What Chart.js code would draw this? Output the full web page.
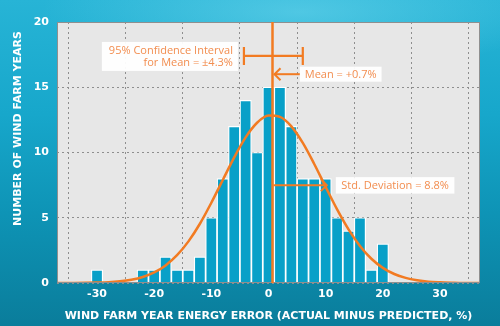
<!DOCTYPE html>
<html><head><meta charset="utf-8">
<script src="https://cdn.jsdelivr.net/npm/chart.js@4/dist/chart.umd.min.js"></script>
<style>
html,body{margin:0;padding:0;width:500px;height:326px;overflow:hidden;}
body{background:
 radial-gradient(ellipse 260px 60px at 300px 12px, rgba(130,225,245,0.45), rgba(130,225,245,0)),
 linear-gradient(180deg,#27b4d6 0%,#17a7cb 35%,#0e94b6 65%,#0a7d9b 100%);}
canvas{display:block}
</style></head><body>
<canvas id="c" width="500" height="326"></canvas>
<script>
// Histogram bins (centre of 2%-wide bin) and counts
const binCenters = [-30,-28,-26,-24,-22,-20,-18,-16,-14,-12,-10,-8,-6,-4,-2,0,2,4,6,8,10,12,14,16,18,20];
const binCounts  = [  1,  0,  0,  0,  1,  1,  2,  1,  1,  2,  5, 8,12,14,10,15,15,12,8,8,8,5,4,5,1,3];
// Fitted normal curve
const curveX = [-37,-34,-32,-30,-28,-26,-24,-22,-20,-18,-16,-14,-12,-10,-8,-6,-4,-2,0,2,4,6,8,10,12,14,16,18,20,22,24,26,28,30,32,34,37];
const curveY = [0,0,0.01,0.03,0.06,0.13,0.25,0.46,0.81,1.35,2.13,3.19,4.54,6.15,7.89,9.63,11.16,12.28,12.83,12.73,12.0,10.73,9.12,7.36,5.64,4.11,2.84,1.86,1.16,0.69,0.39,0.21,0.10,0.05,0.02,0,0];
// Axis ticks
const xTickValues = [-30,-20,-10,0,10,20,30];
const yTickValues = [0,5,10,15,20];
// Annotation values
const meanValue = [0.7];
const ciRange = [-4.3, 6.0];      // drawn interval bar ends
const ciLevel = [17.4];           // y level of interval bar
const meanLabelLevel = [16.0];
const sdArrow = [0.7, 10.2];
const sdLevel = [7.5];
const labels = {
  ci: ['95% Confidence Interval', 'for Mean = \u00b14.3%'],
  mean: 'Mean = +0.7%',
  sd: 'Std. Deviation = 8.8%',
  xTitle: 'WIND FARM YEAR ENERGY ERROR (ACTUAL MINUS PREDICTED, %)',
  yTitle: 'NUMBER OF WIND FARM YEARS'
};

const ORANGE = '#f27b22';
const TXT_ORANGE = '#f28d4f';
const BOLD = 'DejaVu Sans';

const barData = binCenters.map((x,i)=>({x, y: binCounts[i]})).filter(p=>p.y>0);
const curveData = curveX.map((x,i)=>({x, y: curveY[i]}));

function arrowHead(ctx, x, y, dir, size){
  ctx.beginPath();
  ctx.moveTo(x - dir*size, y - size);
  ctx.lineTo(x, y);
  ctx.lineTo(x - dir*size, y + size);
  ctx.stroke();
}
function box(ctx, x, y, w, h){
  ctx.fillStyle = 'rgba(255,255,255,0.95)';
  ctx.fillRect(x, y, w, h);
}

const annot = {
  id: 'annot',
  beforeDraw(chart){
    const {ctx, chartArea:a} = chart;
    ctx.save();
    ctx.fillStyle = '#e7e7e7';
    ctx.fillRect(a.left, a.top, a.right-a.left, a.bottom-a.top);
    ctx.restore();
  },
  afterDatasetsDraw(chart){
    const {ctx, chartArea:a, scales:{x, y}} = chart;
    ctx.save();
    // border
    ctx.strokeStyle = '#8f8f8f'; ctx.lineWidth = 1;
    ctx.strokeRect(a.left+0.5, a.top+0.5, a.right-a.left-1, a.bottom-a.top-1);
    ctx.strokeStyle = ORANGE; ctx.lineWidth = 2.5; ctx.lineCap = 'butt';
    // mean line
    const mx = x.getPixelForValue(meanValue[0]);
    ctx.beginPath(); ctx.moveTo(mx, a.top); ctx.lineTo(mx, a.bottom); ctx.stroke();
    // CI bar
    const cy = y.getPixelForValue(ciLevel[0]);
    const c1 = x.getPixelForValue(ciRange[0]), c2 = x.getPixelForValue(ciRange[1]);
    ctx.lineWidth = 2.2;
    ctx.beginPath(); ctx.moveTo(c1, cy); ctx.lineTo(c2, cy);
    ctx.moveTo(c1, cy-9); ctx.lineTo(c1, cy+9);
    ctx.moveTo(c2, cy-9); ctx.lineTo(c2, cy+9);
    ctx.stroke();
    // CI label
    ctx.font = '11px "Open Sans"';
    const w1 = Math.max(ctx.measureText(labels.ci[0]).width, ctx.measureText(labels.ci[1]).width);
    const bxR = c1 - 6;
    box(ctx, bxR - w1 - 12, cy - 14, w1 + 12, 29);
    ctx.fillStyle = TXT_ORANGE; ctx.textAlign = 'right'; ctx.textBaseline = 'middle';
    ctx.fillText(labels.ci[0], bxR - 5, cy - 5);
    ctx.fillText(labels.ci[1], bxR - 5, cy + 7);
    // Mean label + arrow
    const my = y.getPixelForValue(meanLabelLevel[0]);
    const mw = ctx.measureText(labels.mean).width;
    const mbx = c2 - 3;
    box(ctx, mbx, my - 7.5, mw + 10, 15);
    ctx.fillStyle = TXT_ORANGE; ctx.textAlign = 'left';
    ctx.fillText(labels.mean, mbx + 5, my + 0.5);
    ctx.strokeStyle = ORANGE; ctx.lineWidth = 2;
    ctx.beginPath(); ctx.moveTo(mbx, my); ctx.lineTo(mx + 2, my); ctx.stroke();
    arrowHead(ctx, mx + 2, my, -1, 6);
    // SD arrow + label
    const sy = y.getPixelForValue(sdLevel[0]);
    const s1 = x.getPixelForValue(sdArrow[0]) + 1, s2 = x.getPixelForValue(sdArrow[1]);
    ctx.beginPath(); ctx.moveTo(s1, sy); ctx.lineTo(s2, sy); ctx.stroke();
    arrowHead(ctx, s2, sy, 1, 6);
    const sw = ctx.measureText(labels.sd).width;
    const sbx = s2 + 9;
    box(ctx, sbx, sy - 8, sw + 11, 16.5);
    ctx.fillStyle = TXT_ORANGE;
    ctx.fillText(labels.sd, sbx + 5.5, sy + 0.5);
    ctx.restore();
  },
  afterDraw(chart){
    const {ctx} = chart;
    ctx.save();
    ctx.translate(18, 128.5);
    ctx.rotate(-Math.PI/2);
    ctx.font = 'bold 11px "' + BOLD + '"';
    ctx.fillStyle = '#ffffff'; ctx.textAlign = 'center'; ctx.textBaseline = 'middle';
    ctx.fillText(labels.yTitle, 0, 0);
    ctx.restore();
  }
};

new Chart(document.getElementById('c'), {
  type: 'bar',
  data: {
    datasets: [
      { type: 'line', data: curveData, borderColor: ORANGE, borderWidth: 2.5, pointRadius: 0,
        cubicInterpolationMode: 'monotone', fill: false, order: 0 },
      { type: 'bar', data: barData, backgroundColor: '#08a0c8', borderColor: '#ffffff', borderWidth: 1.2,
        borderSkipped: 'bottom', barPercentage: 1, categoryPercentage: 1, order: 1 }
    ]
  },
  options: {
    responsive: false, animation: false, devicePixelRatio: 1,
    layout: { padding: { left: 0, right: 20, top: 22, bottom: 0 } },
    plugins: { legend: { display: false }, tooltip: { enabled: false } },
    scales: {
      x: {
        type: 'linear', min: -37, max: 37, offset: false,
        afterFit(s){ s.height = 43; },
        afterBuildTicks(s){ s.ticks = xTickValues.map(v=>({value:v})); },
        grid: { color: '#8e8e8e', lineWidth: 1, drawTicks: false },
        border: { display: false, dash: [2,3] },
        ticks: { color: '#ffffff', padding: 5, font: { family: BOLD, weight: 'bold', size: 11 } },
        title: { display: true, text: labels.xTitle, color: '#ffffff', padding: { top: 0, bottom: 3 },
                 font: { family: BOLD, weight: 'bold', size: 11 } }
      },
      y: {
        min: 0, max: 20,
        afterFit(s){ s.width = 57; },
        afterBuildTicks(s){ s.ticks = yTickValues.map(v=>({value:v})); },
        grid: { color: '#8e8e8e', lineWidth: 1, drawTicks: false },
        border: { display: false, dash: [2,3] },
        ticks: { color: '#ffffff', padding: 8, font: { family: BOLD, weight: 'bold', size: 11 } }
      }
    }
  },
  plugins: [annot]
});
</script>
</body></html>
